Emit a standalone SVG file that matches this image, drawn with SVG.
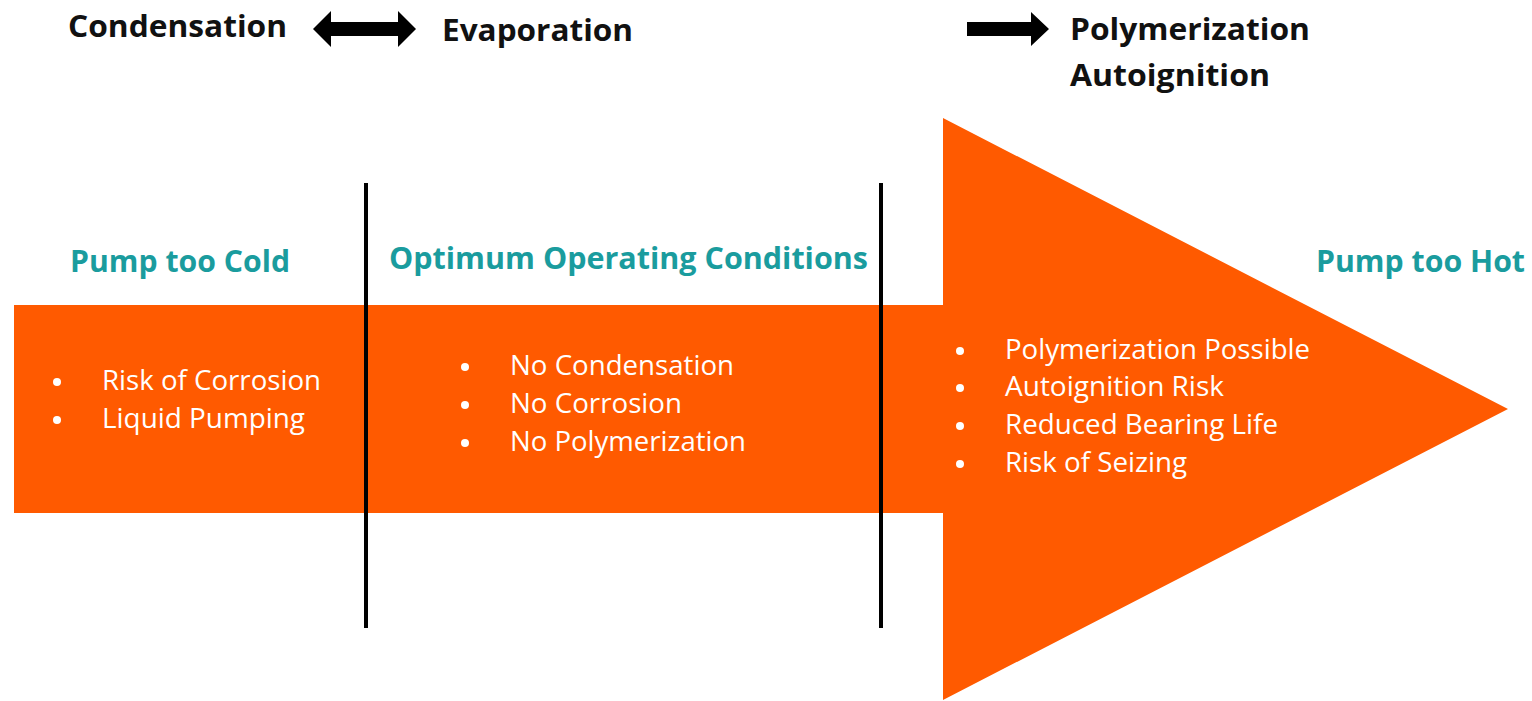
<svg xmlns="http://www.w3.org/2000/svg" width="1532" height="701" viewBox="0 0 1532 701">
  <style>
    .head { font-family: "Open Sans", "Noto Sans", sans-serif; font-weight: 700; font-size: 31px; fill: #111; }
    .zone { font-family: "Open Sans", "Noto Sans", sans-serif; font-weight: 700; font-size: 29.5px; fill: #1a9c9e; }
    .item { font-family: "Open Sans", "Noto Sans", sans-serif; font-size: 26.5px; fill: #ffffff; }
    .dot { fill: #ffffff; }
    .divider { stroke: #000; stroke-width: 4; }
  </style>
  <rect width="1532" height="701" fill="#ffffff"/>

  <!-- big temperature arrow -->
  <g id="temperature-arrow">
    <polygon points="14,305 943,305 943,118 1508,409 943,700 943,513 14,513" fill="#ff5a00"/>
  </g>

  <!-- zone dividers and phase arrows -->
  <g id="connectors">
    <line class="divider" x1="366" y1="183" x2="366" y2="628"/>
    <line class="divider" x1="881" y1="183" x2="881" y2="628"/>
    <polygon id="double-arrow" points="313,29 331,11 331,22 398,22 398,11 416,29 398,47 398,36 331,36 331,47" fill="#000"/>
    <polygon id="right-arrow" points="967,22 1031,22 1031,12 1049,29 1031,46 1031,36 967,36" fill="#000"/>
  </g>

  <!-- phase labels along the top -->
  <g id="top-labels">
    <text class="head" x="68" y="37" textLength="219" lengthAdjust="spacingAndGlyphs">Condensation</text>
    <text class="head" x="442" y="41" textLength="191" lengthAdjust="spacingAndGlyphs">Evaporation</text>
    <text class="head" x="1070" y="40" textLength="240" lengthAdjust="spacingAndGlyphs">Polymerization</text>
    <text class="head" x="1070" y="86" textLength="200" lengthAdjust="spacingAndGlyphs">Autoignition</text>
  </g>

  <g id="zone-cold">
    <text class="zone" x="70" y="272" textLength="220" lengthAdjust="spacingAndGlyphs">Pump too Cold</text>
    <circle class="dot" cx="57" cy="382" r="4"/>
    <circle class="dot" cx="57" cy="420" r="4"/>
    <text class="item" x="102" y="390" textLength="219" lengthAdjust="spacingAndGlyphs">Risk of Corrosion</text>
    <text class="item" x="102" y="428" textLength="203" lengthAdjust="spacingAndGlyphs">Liquid Pumping</text>
  </g>

  <g id="zone-optimum">
    <text class="zone" x="389" y="269" textLength="479" lengthAdjust="spacingAndGlyphs">Optimum Operating Conditions</text>
    <circle class="dot" cx="465" cy="367" r="4"/>
    <circle class="dot" cx="465" cy="405" r="4"/>
    <circle class="dot" cx="465" cy="443" r="4"/>
    <text class="item" x="510" y="375" textLength="224" lengthAdjust="spacingAndGlyphs">No Condensation</text>
    <text class="item" x="510" y="413" textLength="172" lengthAdjust="spacingAndGlyphs">No Corrosion</text>
    <text class="item" x="510" y="451" textLength="236" lengthAdjust="spacingAndGlyphs">No Polymerization</text>
  </g>

  <g id="zone-hot">
    <text class="zone" x="1316" y="272" textLength="209" lengthAdjust="spacingAndGlyphs">Pump too Hot</text>
    <circle class="dot" cx="960" cy="351" r="4"/>
    <circle class="dot" cx="960" cy="388" r="4"/>
    <circle class="dot" cx="960" cy="426" r="4"/>
    <circle class="dot" cx="960" cy="464" r="4"/>
    <text class="item" x="1005" y="359" textLength="305" lengthAdjust="spacingAndGlyphs">Polymerization Possible</text>
    <text class="item" x="1005" y="396" textLength="219" lengthAdjust="spacingAndGlyphs">Autoignition Risk</text>
    <text class="item" x="1005" y="434" textLength="273" lengthAdjust="spacingAndGlyphs">Reduced Bearing Life</text>
    <text class="item" x="1005" y="472" textLength="182" lengthAdjust="spacingAndGlyphs">Risk of Seizing</text>
  </g>
</svg>
